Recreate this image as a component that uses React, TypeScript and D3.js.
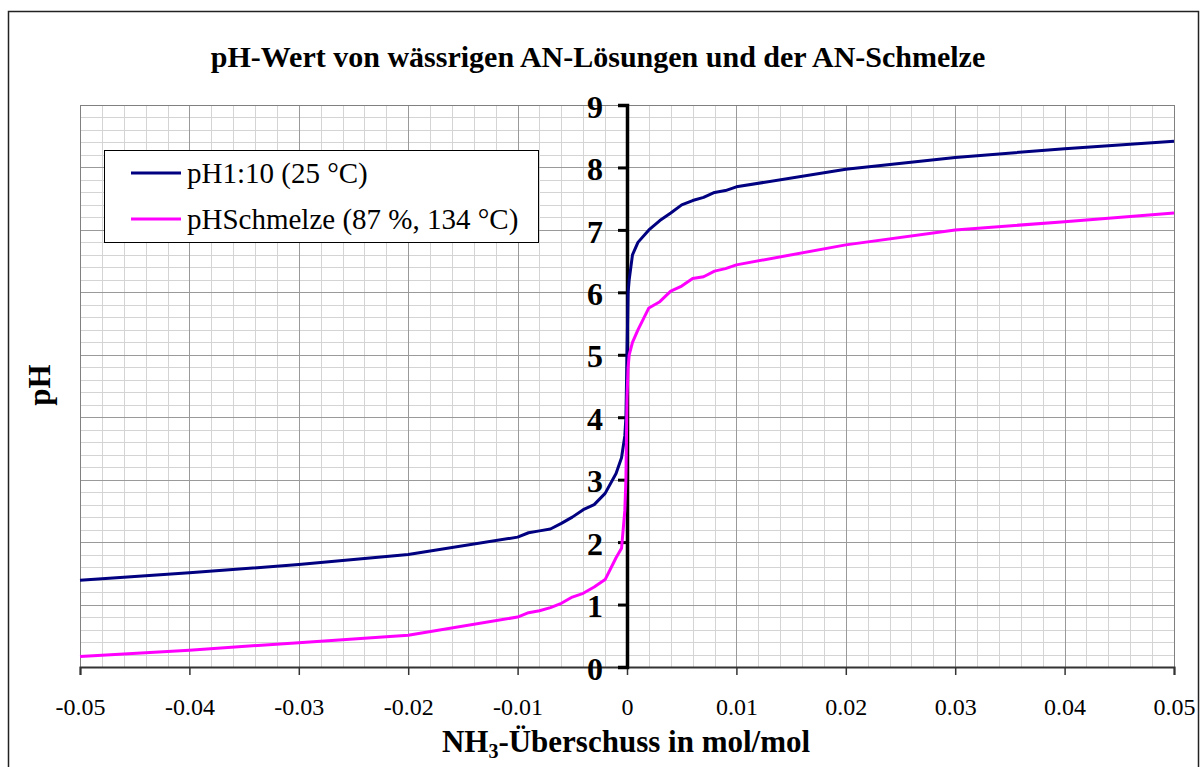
import { useEffect, useRef } from 'react'
import * as d3 from 'd3'

// NH3 excess (mol/mol)
const excess = [
  -0.05, -0.04, -0.03, -0.02, -0.01, -0.009, -0.008, -0.007, -0.006, -0.005,
  -0.004, -0.003, -0.002, -0.001, -0.0005, -0.0002, -0.0001, 0, 0.0001, 0.0002,
  0.0005, 0.001, 0.002, 0.003, 0.004, 0.005, 0.006, 0.007, 0.008, 0.009,
  0.01, 0.02, 0.03, 0.04, 0.05
]
// pH 1:10 (25 °C)
const ph110 = [
  1.39, 1.51, 1.64, 1.8, 2.08, 2.15, 2.18, 2.21, 2.3, 2.4,
  2.52, 2.6, 2.78, 3.1, 3.35, 3.7, 4.0, 5.0, 6.0, 6.2,
  6.6, 6.8, 7.0, 7.15, 7.27, 7.4, 7.47, 7.52, 7.6, 7.63,
  7.69, 7.97, 8.16, 8.3, 8.42
]
// pH Schmelze (87 %, 134 °C)
const phMelt = [
  0.17, 0.27, 0.39, 0.51, 0.8, 0.87, 0.9, 0.95, 1.02, 1.12,
  1.18, 1.28, 1.4, 1.75, 1.9, 2.5, 3.0, 4.3, 4.8, 5.0,
  5.2, 5.4, 5.75, 5.85, 6.02, 6.1, 6.22, 6.25, 6.34, 6.38,
  6.44, 6.76, 7.0, 7.13, 7.27
]
const xTicks = [-0.05, -0.04, -0.03, -0.02, -0.01, 0, 0.01, 0.02, 0.03, 0.04, 0.05]
const yTicks = [0, 1, 2, 3, 4, 5, 6, 7, 8, 9]
const seriesNames = ['pH1:10 (25 °C)', 'pHSchmelze (87 %, 134 °C)']
const seriesColors = ['#000080', '#ff00ff']

const W = 1204
const H = 767
const plot = { left: 80, right: 1174, top: 105, bottom: 667 }
const font = '"Liberation Serif", "Times New Roman", serif'

const App = () => {
  const svgRef = useRef(null)

  useEffect(() => {
    const svg = d3.select(svgRef.current)
    svg.selectAll('*').remove()

    const x = d3.scaleLinear().domain([-0.05, 0.05]).range([plot.left, plot.right])
    const y = d3.scaleLinear().domain([0, 9]).range([plot.bottom, plot.top])

    svg.append('rect').attr('width', W).attr('height', H).attr('fill', 'white')

    // outer chart border
    svg.append('rect')
      .attr('x', 8.5).attr('y', 11.5)
      .attr('width', 1190).attr('height', 800)
      .attr('fill', 'none').attr('stroke', '#222').attr('stroke-width', 1.5)

    // minor grid
    const minorX = d3.range(0, 51).map(i => -0.05 + i * 0.002)
    const minorY = d3.range(0, 46).map(i => i * 0.2)
    const grid = svg.append('g')
    minorX.forEach(v => {
      grid.append('line')
        .attr('x1', Math.round(x(v)) + 0.5).attr('x2', Math.round(x(v)) + 0.5)
        .attr('y1', plot.top).attr('y2', plot.bottom)
        .attr('stroke', '#d4d4d4').attr('stroke-width', 1)
    })
    minorY.forEach(v => {
      grid.append('line')
        .attr('x1', plot.left).attr('x2', plot.right)
        .attr('y1', Math.round(y(v)) + 0.5).attr('y2', Math.round(y(v)) + 0.5)
        .attr('stroke', '#d4d4d4').attr('stroke-width', 1)
    })
    // major grid
    xTicks.forEach(v => {
      grid.append('line')
        .attr('x1', Math.round(x(v)) + 0.5).attr('x2', Math.round(x(v)) + 0.5)
        .attr('y1', plot.top).attr('y2', plot.bottom)
        .attr('stroke', '#9a9a9a').attr('stroke-width', 1)
    })
    yTicks.forEach(v => {
      grid.append('line')
        .attr('x1', plot.left).attr('x2', plot.right)
        .attr('y1', Math.round(y(v)) + 0.5).attr('y2', Math.round(y(v)) + 0.5)
        .attr('stroke', '#9a9a9a').attr('stroke-width', 1)
    })
    // plot area border
    svg.append('rect')
      .attr('x', plot.left + 0.5).attr('y', plot.top + 0.5)
      .attr('width', plot.right - plot.left).attr('height', plot.bottom - plot.top)
      .attr('fill', 'none').attr('stroke', '#808080').attr('stroke-width', 1)

    // x axis
    const xAxis = svg.append('g')
      .attr('transform', `translate(0,${plot.bottom})`)
      .call(d3.axisBottom(x).tickValues(xTicks).tickSize(8).tickFormat(d => String(+(+d).toFixed(2))))
    xAxis.select('.domain').attr('stroke', '#333').attr('stroke-width', 2)
    xAxis.selectAll('.tick line').attr('stroke', '#333').attr('stroke-width', 1.5)
    xAxis.selectAll('.tick text')
      .attr('y', 48).attr('dy', 0)
      .style('font-family', font).style('font-size', '24px').attr('fill', 'black')

    // y axis at x = 0
    const yAxis = svg.append('g')
      .attr('transform', `translate(${x(0)},0)`)
      .call(d3.axisLeft(y).tickValues(yTicks).tickSize(9))
    yAxis.select('.domain').attr('stroke', 'black').attr('stroke-width', 3.5)
    yAxis.selectAll('.tick line').attr('stroke', 'black').attr('stroke-width', 3)
    yAxis.selectAll('.tick text')
      .attr('x', -24).attr('dy', '0.38em')
      .style('font-family', font).style('font-size', '32px').style('font-weight', 'bold').attr('fill', 'black')

    // series
    const series = [ph110, phMelt]
    series.forEach((vals, i) => {
      const line = d3.line<number>()
        .x((_, j) => x(excess[j]))
        .y(d => y(d))
      svg.append('path')
        .datum(vals)
        .attr('fill', 'none')
        .attr('stroke', seriesColors[i])
        .attr('stroke-width', 3)
        .attr('stroke-linejoin', 'round')
        .attr('d', line)
    })

    // title
    svg.append('text')
      .attr('x', 598).attr('y', 67)
      .attr('text-anchor', 'middle')
      .style('font-family', font).style('font-size', '30px').style('font-weight', 'bold')
      .text('pH-Wert von wässrigen AN-Lösungen und der AN-Schmelze')

    // x axis title
    const xt = svg.append('text')
      .attr('x', 626).attr('y', 752)
      .attr('text-anchor', 'middle')
      .style('font-family', font).style('font-size', '31px').style('font-weight', 'bold')
    xt.append('tspan').text('NH')
    xt.append('tspan').attr('dy', 6).style('font-size', '20px').text('3')
    xt.append('tspan').attr('dy', -6).text('-Überschuss in mol/mol')

    // y axis title
    svg.append('text')
      .attr('transform', 'translate(50,385) rotate(-90)')
      .attr('text-anchor', 'middle')
      .style('font-family', font).style('font-size', '31px').style('font-weight', 'bold')
      .text('pH')

    // legend
    const legend = svg.append('g')
    legend.append('rect')
      .attr('x', 104.5).attr('y', 150.5).attr('width', 434).attr('height', 92)
      .attr('fill', 'white').attr('stroke', 'black').attr('stroke-width', 1)
    seriesNames.forEach((name, i) => {
      const cy = 173 + i * 46
      legend.append('line')
        .attr('x1', 131).attr('x2', 181).attr('y1', cy).attr('y2', cy)
        .attr('stroke', seriesColors[i]).attr('stroke-width', 3)
      legend.append('text')
        .attr('x', 187).attr('y', cy).attr('dy', '0.35em')
        .style('font-family', font).style('font-size', '29px')
        .text(name)
    })
  }, [])

  return (
    <svg ref={svgRef} width={W} height={H} style={{ position: 'absolute', left: 0, top: 0 }}></svg>
  )
}

export default App
